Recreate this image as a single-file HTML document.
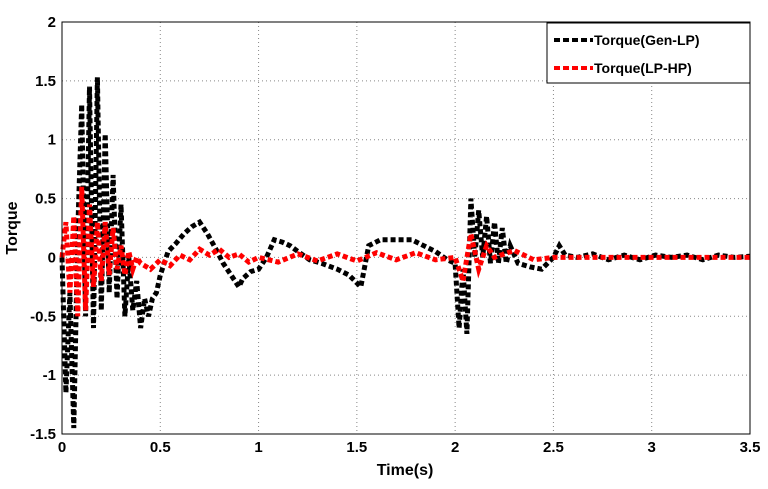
<!DOCTYPE html>
<html><head><meta charset="utf-8"><style>
body{margin:0;background:#fff;}
svg{font-family:"Liberation Sans",Arial,sans-serif;font-weight:bold;}
</style></head><body>
<svg id="chart" width="768" height="484" xmlns="http://www.w3.org/2000/svg">
<g id="grid"></g>
<g id="series"></g>
<rect x="62" y="22" width="688" height="412" fill="none" stroke="#000" stroke-width="1"/>
<g id="ticks"></g>
<text x="405" y="475" font-size="16" text-anchor="middle">Time(s)</text>
<text transform="translate(17,228) rotate(-90)" font-size="16" text-anchor="middle">Torque</text>
<g>
<rect x="547" y="23" width="203" height="60" fill="#fff" stroke="#000" stroke-width="1"/>
<g>
<line x1="554" y1="40" x2="593" y2="40" stroke="#000" stroke-width="4" stroke-dasharray="6 3"/>
<text x="594" y="45" font-size="14">Torque(Gen-LP)</text></g>
<g>
<line x1="554" y1="68" x2="593" y2="68" stroke="#f00" stroke-width="4" stroke-dasharray="6 3"/>
<text x="594" y="73" font-size="14">Torque(LP-HP)</text></g>
</g>
</svg>
<script>
const xTicks=[0,0.5,1,1.5,2,2.5,3,3.5];
const xTickLabels=["0","0.5","1","1.5","2","2.5","3","3.5"];
const yTicks=[-1.5,-1,-0.5,0,0.5,1,1.5,2];
const yTickLabels=["-1.5","-1","-0.5","0","0.5","1","1.5","2"];
const blackT=[0,0.02,0.04,0.06,0.08,0.10,0.12,0.14,0.16,0.18,0.20,0.22,0.24,0.26,0.28,0.30,0.32,0.34,0.36,0.38,0.40,0.42,0.44,0.46,0.48,0.50,0.54,0.58,0.62,0.66,0.70,0.74,0.78,0.82,0.86,0.90,0.92,0.96,1.00,1.04,1.08,1.12,1.16,1.20,1.26,1.32,1.40,1.46,1.52,1.56,1.62,1.70,1.78,1.84,1.90,1.96,2.00,2.02,2.04,2.06,2.08,2.10,2.12,2.14,2.16,2.18,2.20,2.22,2.24,2.26,2.28,2.32,2.38,2.44,2.50,2.53,2.56,2.62,2.70,2.78,2.86,2.94,3.02,3.10,3.18,3.26,3.34,3.42,3.50];
const blackV=[0,-1.15,-0.3,-1.45,0.2,1.3,-0.5,1.45,-0.6,1.53,-0.45,1.05,-0.3,0.7,-0.35,0.45,-0.5,0.0,-0.45,-0.2,-0.6,-0.35,-0.5,-0.35,-0.3,-0.15,0.05,0.12,0.2,0.26,0.3,0.2,0.08,-0.05,-0.15,-0.25,-0.18,-0.12,-0.1,0.0,0.15,0.13,0.1,0.05,-0.02,-0.05,-0.1,-0.15,-0.25,0.1,0.15,0.15,0.15,0.1,0.05,-0.02,-0.05,-0.6,-0.1,-0.65,0.5,0.0,0.4,0.0,0.35,-0.05,0.3,-0.05,0.25,-0.05,0.1,-0.05,-0.08,-0.1,0.0,0.1,0.02,0.0,0.03,-0.02,0.02,-0.02,0.02,0.0,0.02,-0.02,0.02,0.0,0.01];
const redT=[0,0.02,0.04,0.06,0.08,0.10,0.12,0.14,0.16,0.18,0.20,0.22,0.24,0.26,0.28,0.30,0.32,0.34,0.36,0.38,0.40,0.45,0.50,0.55,0.60,0.65,0.70,0.75,0.80,0.85,0.90,0.95,1.00,1.10,1.20,1.30,1.40,1.50,1.60,1.70,1.80,1.90,2.00,2.04,2.08,2.12,2.16,2.20,2.30,2.40,2.50,2.70,3.00,3.50];
const redV=[0,0.3,-0.3,0.35,-0.5,0.6,-0.45,0.45,-0.25,0.3,-0.2,0.3,-0.15,0.25,-0.1,0.1,-0.15,0.05,-0.1,0.0,-0.05,-0.1,-0.02,-0.07,0.02,-0.02,0.07,0.02,0.07,0.0,0.03,-0.04,0.0,-0.04,0.03,-0.03,0.03,-0.03,0.04,-0.02,0.04,-0.02,0.0,-0.2,0.2,-0.1,0.1,0.0,0.06,-0.02,0.0,0.0,0.0,0.0];
const X0=62,X1=750,Y0=434,Y1=22;
const xs=v=>X0+(v-0)/(3.5-0)*(X1-X0);
const ys=v=>Y0-(v+1.5)/(2+1.5)*(Y0-Y1);
const NS="http://www.w3.org/2000/svg";
const grid=document.getElementById('grid'),ticks=document.getElementById('ticks'),series=document.getElementById('series');
function mk(tag,attrs,parent){const e=document.createElementNS(NS,tag);for(const k in attrs)e.setAttribute(k,attrs[k]);parent.appendChild(e);return e;}
xTicks.forEach((t,i)=>{
  const x=xs(t);
  if(i>0&&i<xTicks.length-1){const g=mk('line',{x1:x,x2:x,y1:Y1,y2:Y0,stroke:'#888','stroke-dasharray':'1 3'},grid);
  
  }
  const l=mk('text',{x:x,y:Y0+18,'font-size':15,'text-anchor':'middle'},ticks);l.textContent=xTickLabels[i];
  
  
});
yTicks.forEach((t,i)=>{
  const y=ys(t);
  if(i>0&&i<yTicks.length-1){const g=mk('line',{x1:X0,x2:X1,y1:y,y2:y,stroke:'#888','stroke-dasharray':'1 3'},grid);
  
  }
  const l=mk('text',{x:X0-6,y:y+5,'font-size':15,'text-anchor':'end'},ticks);l.textContent=yTickLabels[i];
  
  
});
function line(T,V,color,name){
  const d=T.map((t,i)=>(i?'L':'M')+xs(t).toFixed(1)+' '+ys(V[i]).toFixed(1)).join(' ');
  const p=mk('path',{d:d,fill:'none',stroke:color,'stroke-width':5,'stroke-dasharray':'5 3'},series);
  
  
}
line(blackT,blackV,'#000','series-gen-lp');
line(redT,redV,'#f00','series-lp-hp');
</script>
</body></html>
